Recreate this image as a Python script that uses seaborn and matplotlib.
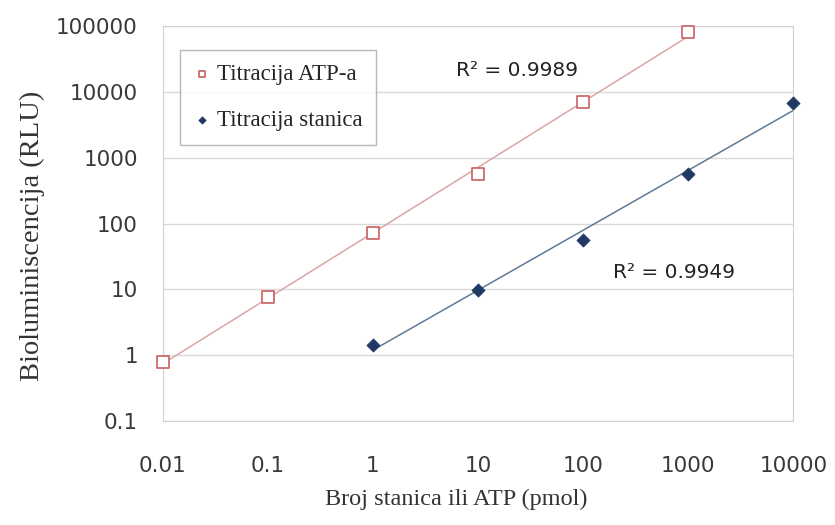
import numpy as np
import pandas as pd
import matplotlib.pyplot as plt
import seaborn as sns

# ATP titration
atp_x = [0.01, 0.1, 1, 10, 100, 1000]
atp_y = [0.8, 7.6, 72, 570, 7000, 81000]
# cell titration
cell_x = [1, 10, 100, 1000, 10000]
cell_y = [1.45, 9.8, 57, 570, 6800]

r2_atp = "R² = 0.9989"
r2_cell = "R² = 0.9949"
x_ticks = [0.01, 0.1, 1, 10, 100, 1000, 10000]
y_ticks = [0.1, 1, 10, 100, 1000, 10000, 100000]

sns.set_style("white")
plt.rcParams['font.family'] = ['DejaVu Sans']

fig = plt.figure(figsize=(8.35, 5.25), dpi=100)
ax = fig.add_axes([0.195, 0.198, 0.755, 0.752])

# power trendlines (linear fit in log-log space)
def trend(xs, ys):
    p = np.polyfit(np.log10(xs), np.log10(ys), 1)
    xx = np.array([min(xs), max(xs)])
    return pd.DataFrame({"x": xx, "y": 10 ** np.polyval(p, np.log10(xx))})

t1 = trend(atp_x, atp_y)
t2 = trend(cell_x, cell_y)
sns.lineplot(data=t1, x="x", y="y", ax=ax, color="#dca5a5", lw=1.1)
sns.lineplot(data=t2, x="x", y="y", ax=ax, color="#5f7a93", lw=1.1)

ax.set_xscale("log")
ax.set_yscale("log")

sns.scatterplot(x=atp_x, y=atp_y, ax=ax, marker="s", s=80, facecolor="white",
                edgecolor="#c86060", linewidth=1.2, label="Titracija ATP-a",
                zorder=3, clip_on=False)
sns.scatterplot(x=cell_x, y=cell_y, ax=ax, marker="D", s=45, color="#1f3864",
                edgecolor="#1f3864", label="Titracija stanica", zorder=3,
                clip_on=False)

ax.set_xlim(0.01, 10000)
ax.set_ylim(0.1, 100000)
ax.set_xticks(x_ticks)
ax.set_xticklabels([f"{v:g}" for v in x_ticks])
ax.set_yticks(y_ticks)
ax.set_yticklabels([f"{v:g}" for v in y_ticks])
ax.minorticks_off()
ax.tick_params(axis="both", labelsize=15.5, colors="#3a3a3a", length=5,
               direction="out", color="#cccccc")
ax.tick_params(axis="x", pad=20)
ax.tick_params(axis="y", pad=13)
ax.yaxis.grid(True, color="#d9d9d9", lw=1)
for s in ax.spines.values():
    s.set_color("#d0d0d0")

ax.text(0.562, 0.889, r2_atp, transform=ax.transAxes, ha="center", va="center",
        fontsize=14.5, color="#222222")
ax.text(0.811, 0.375, r2_cell, transform=ax.transAxes, ha="center", va="center",
        fontsize=14.5, color="#222222")

serif = ["Liberation Serif", "DejaVu Serif"]
ax.set_xlabel("Broj stanica ili ATP (pmol)", family=serif, fontsize=17.5,
              color="#333333")
ax.set_ylabel("Bioluminiscencija (RLU)", family=serif, fontsize=20.5,
              color="#333333")
ax.xaxis.set_label_coords(0.465, -0.172)
ax.yaxis.set_label_coords(-0.187, 0.47)

leg = ax.legend(loc="upper left", bbox_to_anchor=(0.027, 0.939),
                borderaxespad=0, prop={"family": serif, "size": 16.5},
                frameon=True, fancybox=False, handletextpad=0.3,
                handlelength=0.7, borderpad=0.6, labelspacing=1.1,
                markerscale=0.55)
leg.get_frame().set_edgecolor("#a6a6a6")

fig.savefig("out.png", dpi=100)
